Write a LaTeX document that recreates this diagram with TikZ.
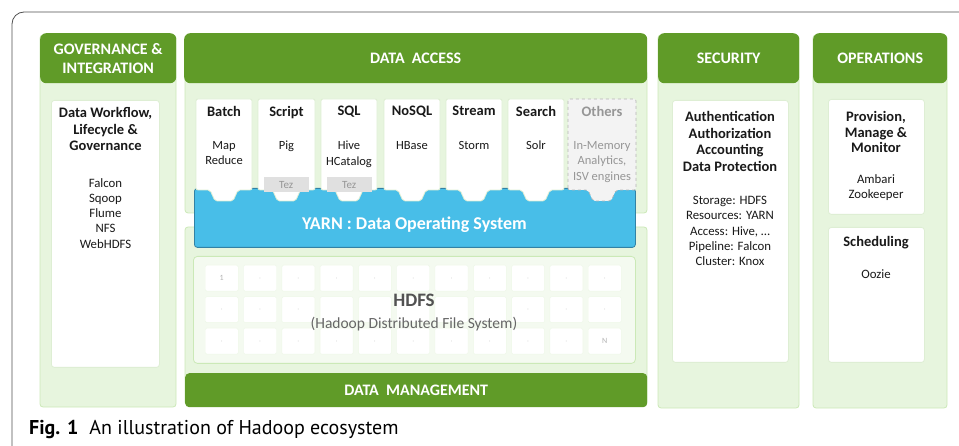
\documentclass[tikz,border=0pt]{standalone}
\usepackage{fontspec}
\setmainfont{Carlito}
\newfontfamily\capfont{PT Sans}
\definecolor{hgreen}{RGB}{96,155,40}
\definecolor{lgreen}{RGB}{231,245,222}
\definecolor{lgreenb}{RGB}{203,233,183}
\definecolor{wborder}{RGB}{222,238,212}
\definecolor{yblue}{RGB}{72,190,232}
\definecolor{ybord}{RGB}{50,130,165}
\definecolor{othfill}{RGB}{243,243,243}
\definecolor{othtext}{RGB}{150,150,150}
\definecolor{tezfill}{RGB}{224,224,224}
\definecolor{dtext}{RGB}{25,25,25}
\definecolor{framec}{RGB}{80,80,80}
\begin{document}
\begin{tikzpicture}[x=1pt,y=-1pt,
  panel/.style={fill=lgreen,draw=lgreenb,line width=0.8pt,rounded corners=3pt},
  hdr/.style={fill=hgreen,rounded corners=6pt,inner sep=0pt,anchor=north west,text=white,align=center,font=\bfseries\fontsize{16}{19}\selectfont},
  wbox/.style={fill=white,draw=wborder,line width=0.8pt,rounded corners=3pt,inner sep=0pt,anchor=north west},
  btitle/.style={anchor=north,inner sep=0pt,align=center,text=dtext,font=\bfseries\fontsize{14.5}{17}\selectfont},
  btext/.style={anchor=north,inner sep=0pt,align=center,text=dtext,font=\fontsize{12.5}{15.5}\selectfont},
  dtitle/.style={anchor=north,inner sep=0pt,align=center,text=dtext,font=\bfseries\fontsize{14.5}{16.7}\selectfont},
  dtext/.style={anchor=north,inner sep=0pt,align=center,text=dtext,font=\fontsize{12.8}{15.3}\selectfont},
  tabbox/.style={fill=white,draw=wborder,line width=0.8pt,rounded corners=2pt},
  othbox/.style={fill=othfill,draw=othtext!70,dashed,line width=0.7pt,rounded corners=2pt},
  tez/.style={fill=tezfill,inner sep=0pt,anchor=north west,text=othtext,font=\fontsize{11}{12}\selectfont},
  cell/.style={fill=white,draw=lgreen!70,line width=0.4pt,rounded corners=1.5pt,minimum width=33pt,minimum height=26pt,inner sep=0pt,anchor=north west,text=black!30,font=\fontsize{8}{9}\selectfont}
]
\useasboundingbox (0,0) rectangle (959,446);
% frame
\draw[framec,line width=0.8pt] (959,12) -- (24,12) arc[start angle=90,end angle=180,radius=12pt] -- (12,446);

% ---- Governance column
\draw[panel] (40,35) rectangle (176,407);
\node[hdr,minimum width=136pt,minimum height=50pt] (govh) at (40,33) {GOVERNANCE \&\\INTEGRATION};
\node[wbox,minimum width=108pt,minimum height=267pt] (govb) at (51,100) {};
\node[dtitle] (govt) at (105.5,107) {Data Workflow,\\Lifecycle \&\\Governance};
\node[dtext] (govl) at (105.5,178) {Falcon\\Sqoop\\Flume\\NFS\\WebHDFS};

% ---- Data access
\draw[panel] (185,70) rectangle (647,213);
\draw[panel] (185,227) rectangle (647,405);
\node[hdr,minimum width=463pt,minimum height=50pt] (dah) at (184,33) {DATA\ \ ACCESS};
\node[hdr,minimum width=462pt,minimum height=34pt,rounded corners=4pt] (dmh) at (185,373) {DATA\ \ MANAGEMENT};

% YARN
\node[fill=yblue,draw=ybord,line width=0.8pt,rounded corners=3pt,minimum width=441pt,minimum height=59pt,inner sep=0pt,anchor=north west] (yarn) at (194,188) {};
\node[anchor=center,text=white,font=\bfseries\fontsize{18}{20}\selectfont] (yarnt) at (414.5,225) {YARN : Data Operating System};

% application boxes
\foreach \a/\b/\n/\t/\s in {196/252/batch/Batch/{Map\\Reduce},258/315/script/Script/Pig,321/377/sql/SQL/{Hive\\HCatalog},384/440/nosql/NoSQL/HBase,446/502/stream/Stream/Storm,508/564/search/Search/Solr}{
  \pgfmathsetmacro\c{(\a+\b)/2}
  \draw[tabbox] (\a,190) -- (\a,99) -- (\b,99) -- (\b,190) -- (\c+14,190) -- (\c+9,201) -- (\c-9,201) -- (\c-14,190) -- cycle;
  \node[btitle] (\n t) at (\c,106) {\t};
  \node[btext] (\n s) at (\c,141) {\s};
}
\draw[othbox] (568,190) -- (568,99) -- (636,99) -- (636,190) -- (616,190) -- (611,201) -- (593,201) -- (588,190) -- cycle;
\node[btitle,text=othtext] (otht) at (602,106) {Others};
\node[btext,text=othtext] (oths) at (602,141) {In-Memory\\Analytics,\\ISV engines};
\node[tez,minimum width=45pt,minimum height=15pt] (tez1) at (263.5,177) {Tez};
\node[tez,minimum width=45pt,minimum height=15pt] (tez2) at (326.5,177) {Tez};

% HDFS
\node[fill=lgreen!45,draw=lgreenb,line width=0.8pt,rounded corners=4pt,minimum width=442pt,minimum height=107pt,inner sep=0pt,anchor=north west] (hdfs) at (193,256) {};
\foreach \i in {0,...,10}{
  \foreach \j in {0,1,2}{
    \pgfmathsetmacro\xx{205+38.3*\i}
    \pgfmathsetmacro\yy{265+31.5*\j}
    \pgfmathtruncatemacro\hide{(\j==1)&&(\i>2)&&(\i<8)}
    \node[cell] (c\i-\j) at (\xx,\yy) {\ifnum\hide=1 \else\ifnum\i=0 \ifnum\j=0 1\else$\cdot$\fi\else\ifnum\i=10 \ifnum\j=2 N\else$\cdot$\fi\else$\cdot$\fi\fi\fi};
  }
}
\node[text=black!68,font=\bfseries\fontsize{19}{21}\selectfont,inner sep=0pt] (hdfst) at (414,300) {HDFS};
\node[text=black!60,font=\fontsize{15.5}{18}\selectfont,inner sep=0pt] (hdfss) at (414,324.5) {(Hadoop Distributed File System)};

% ---- Security
\draw[panel] (658,35) rectangle (799,408);
\node[hdr,minimum width=141pt,minimum height=50pt] (sech) at (658,33) {SECURITY};
\node[wbox,minimum width=116pt,minimum height=262pt] (secb) at (672,100) {};
\node[dtitle] (sect) at (730,111) {Authentication\\Authorization\\Accounting\\Data Protection};
\node[dtext] (secl) at (730,196) {Storage: HDFS\\Resources: YARN\\Access: Hive, \dots\\Pipeline: Falcon\\Cluster: Knox};

% ---- Operations
\draw[panel] (813,35) rectangle (947,408);
\node[hdr,minimum width=134pt,minimum height=50pt] (oph) at (813,33) {OPERATIONS};
\node[wbox,minimum width=96pt,minimum height=115pt] (opb1) at (828,99) {};
\node[dtitle,font=\bfseries\fontsize{14.5}{15.7}\selectfont] (opt1) at (876,111) {Provision,\\Manage \&\\Monitor};
\node[dtext] (opl1) at (876,174) {Ambari\\Zookeeper};
\node[wbox,minimum width=96pt,minimum height=135pt] (opb2) at (828,227) {};
\node[dtitle] (opt2) at (876,236) {Scheduling};
\node[dtext] (opl2) at (876,269) {Oozie};

% caption
\node[anchor=base west,inner sep=0pt,font=\capfont\fontsize{20}{22}\selectfont,text=black] (cap) at (29,435) {\textbf{Fig. 1}\hspace{0.55em}An illustration of Hadoop ecosystem};
\end{tikzpicture}
\end{document}
